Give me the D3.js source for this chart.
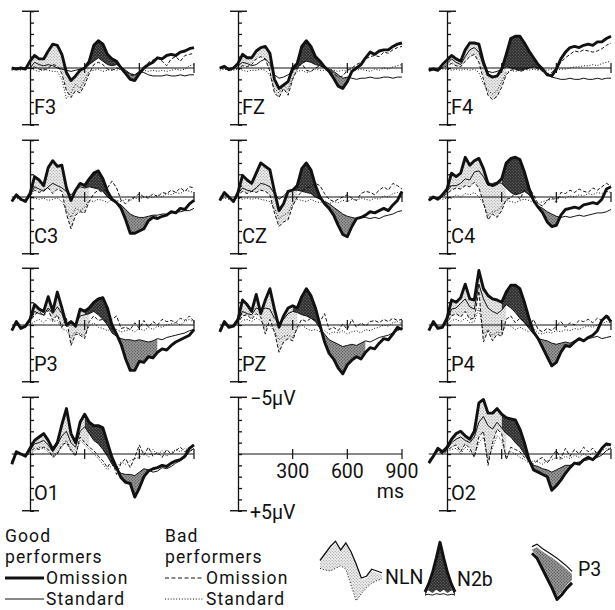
<!DOCTYPE html>
<html><head><meta charset="utf-8">
<script src="https://cdn.jsdelivr.net/npm/d3@7"></script>
<style>
body{margin:0;background:#fff}
svg{display:block}
text{font-family:Roboto,"Liberation Sans",sans-serif;fill:#111}
</style>
</head><body>
<svg id="c" width="615" height="610"></svg>
<script>
// ---- time grid (ms) ----
const times = [-100,-75,-50,-25,0,25,50,75,100,125,150,175,200,225,250,275,300,325,350,375,400,425,450,475,500,525,550,575,600,625,650,675,700,725,750,775,800,825,850,875,900];
const electrodes = ["F3","FZ","F4","C3","CZ","C4","P3","PZ","P4","O1","","O2"];
const scaleTicks = [300,600,900];
const axisTicksUV = [-5,-4,-3,-2,-1,0,1,2,3,4,5];

// ---- amplitudes in µV (negative plotted up) ----
const F3_goodOm  = [0,0.1,0,0.1,-0.6, -1.1,-0.8,-0.8,-1.5,-2.1,-2.0,-1.2,0.4,1.1,0.7, 0.2,0,-0.6,-2.0,-2.4,-2.1,-1.2,-0.8,-0.6,0, 0.5,1.0,1.1,0.5,0,-0.3,-0.5,-0.9,-0.8,-1.1, -1.2,-1.1,-1.4,-1.5,-1.7,-1.8];
const F3_goodStd = [0,0,0,0,0, -0.5,-0.3,-0.2,-0.3,-0.2,0,0.1,0.2,0.3,0.2, 0.1,0,-0.3,-0.6,-0.9,-0.6,-0.3,-0.2,-0.3,-0.1, 0.2,0.5,0.6,0.3,0.4,0.6,0.7,0.7,0.7,0.6, 0.7,0.7,0.6,0.7,0.6,0.6];
const F3_badOm   = [0.1,0,0.1,0,0, -0.1,0.1,0.2,0,-0.3,-0.2,0.5,2.0,2.6,2.0, 2.2,1.5,0.5,-0.3,-0.5,-0.3,0.1,0.2,0,0.1, 0.3,0.6,0.7,0.3,-0.1,-0.5,-0.7,-0.9,-0.6,-0.2, -0.8,-1.0,-0.6,-1.1,-1.2,-1.3];
const F3_badStd  = [0.2,0.1,0.2,0.1,0, 0.2,0.3,0.1,0.2,0.3,0.3,1.0,2.7,2.2,1.4, 1.8,1.0,0.3,0.2,0.1,0.3,0.2,0.1,0.2,0.1, 0.3,0.5,0.6,0.4,0.2,0.3,0.2,0.3,0.2,0.3, 0.2,0.1,0.2,0.1,-0.2,-0.3];

const FZ_goodOm  = [0,-0.15,0.15,0,-0.4, -1.2,-0.9,-0.9,-1.5,-1.8,-1.9,-1.3,1.0,1.8,1.5, 1.2,0,-0.4,-1.9,-2.4,-1.9,-1.0,-0.6,-0.1,0.3, 0.9,1.6,1.8,1.2,0.3,0,-0.3,-0.9,-1.4,-1.2, -1.5,-1.6,-1.6,-1.9,-2.1,-2.2];
const FZ_goodStd = [0,-0.1,0.1,0,-0.2, -0.5,-0.4,-0.2,-0.3,-0.6,-0.8,-0.4,0.6,0.9,0.8, 0.6,0.2,0,-0.4,-0.6,-0.5,-0.3,-0.2,0,0.1, 0.3,0.6,0.9,0.8,0.9,1.0,0.9,0.9,0.8,0.9, 0.9,0.8,0.8,0.9,0.8,0.8];
const FZ_badOm   = [0,0.1,0,0.1,0, -0.2,-0.1,-0.3,-0.8,-1.0,-0.8,0.3,2.2,2.6,1.8, 2.4,1.0,0.1,-0.4,0.2,0.3,0,-0.2,0,0.2, 0.5,0.8,0.7,0.2,0,-0.3,-0.5,-0.8,-1.0,-1.1, -1.0,-1.4,-1.3,-1.6,-1.8,-1.9];
const FZ_badStd  = [0.2,0.1,0.2,0.2,0.1, 0.2,0.3,0.2,0.2,0.1,0.2,0.6,1.8,2.2,1.5, 1.9,0.8,0.3,0.2,0.4,0.3,0.1,0.2,0.2,0.1, 0.2,0.3,0.2,0.3,0.1,0.2,0.1,0.2,0.3,0.1, 0.2,0,0.1,-0.1,-0.2,-0.3];

const F4_goodOm  = [0.2,0.1,0.2,-0.3,-0.7, -1.1,-0.8,-0.6,-1.6,-2.2,-2.2,-2.1,-0.5,0.6,0.8, 0.7,0.1,-1.2,-2.6,-2.8,-2.8,-2.2,-1.5,-0.9,-0.3, 0.1,0.6,0.7,0.1,-0.8,-1.4,-1.8,-1.9,-1.8,-2.0, -2.1,-2.0,-2.3,-2.3,-2.6,-2.8];
const F4_goodStd = [0.1,0,0.2,0,-0.4, -0.8,-0.5,-0.3,-1.0,-1.6,-1.8,-1.4,-0.2,0.3,0.4, 0.3,0.1,-0.1,0,0.1,0.2,0.1,0,-0.1,0, 0.2,0.5,0.8,0.9,1.0,1.0,0.9,1.0,1.0,0.9, 1.0,1.0,0.9,1.0,0.9,0.9];
const F4_badOm   = [0.1,0,0.1,0,-0.2, -0.4,-0.2,-0.1,-0.6,-1.0,-1.2,-0.5,1.0,2.4,2.8, 2.5,1.7,0.6,0.2,0.1,0.3,0.2,0,-0.1,0.1, 0.3,0.5,0.4,0,-0.5,-0.9,-1.2,-1.5,-1.4,-1.6, -1.5,-1.4,-1.5,-1.7,-2.0,-2.2];
const F4_badStd  = [0.2,0.1,0.2,0.1,0.1, 0.2,0.1,0.2,0.1,0.2,0.1,0.4,1.4,2.0,2.3, 2.0,1.2,0.4,0.2,0.3,0.2,0.1,0.2,0.1,0.2, 0.1,0.2,0.1,0.2,0.1,0.1,0,-0.1,-0.1,-0.2, -0.2,-0.3,-0.2,-0.4,-0.5,-0.6];

const C3_goodOm  = [0.4,-0.2,0.2,0.4,-0.3, -1.8,-1.5,-1.0,-2.6,-3.2,-2.7,-2.8,-0.8,0.3,-0.6, -1.2,-1.0,-1.6,-2.1,-2.3,-1.6,-0.5,0.2,0.5,1.0, 2.0,3.2,3.2,3.0,2.8,2.1,1.8,1.9,1.7,1.6, 1.3,1.4,1.0,1.1,0.6,0.3];
const C3_goodStd = [0.3,-0.1,0.2,0.3,-0.1, -0.9,-0.7,-0.5,-0.9,-1.2,-1.0,-0.8,-0.5,-0.2,-0.6, -0.9,-0.8,-0.9,-0.8,-0.7,-0.5,0,0.3,0.5,0.7, 1.1,1.5,1.7,1.8,1.8,1.7,1.6,1.6,1.5,1.5, 1.4,1.3,1.3,1.2,1.2,1.0];
const C3_badOm   = [0.3,0,0.2,0.3,-0.1, -0.6,-0.4,-0.6,-0.8,-0.3,-0.7,-0.5,1.5,2.8,1.6, 1.3,1.4,0.4,-0.3,-0.6,-0.4,-0.8,-1.4,-0.8,0.3, 0.6,0.2,0,-0.3,0,0.1,-0.3,0,-0.4,-0.3, -0.6,-0.4,-0.8,-0.5,-0.9,-0.8];
const C3_badStd  = [0.2,0.1,0.3,0.2,0.1, 0.1,0.2,0.1,0.3,0.2,0.1,0.4,1.2,1.8,1.0, 1.2,0.9,0.3,0.4,0.2,0.3,0.5,0.2,0.3,0.4, 0.2,0.3,0.1,0.2,0,-0.1,0.1,-0.2,0,-0.3, -0.2,-0.4,-0.3,-0.6,-0.5,-0.4];

const CZ_goodOm  = [0.3,-0.4,0,0.4,-0.4, -1.9,-1.5,-1.2,-2.1,-3.0,-2.7,-2.4,-0.5,1.2,0.6, -0.5,-0.6,-1.0,-2.5,-3.0,-2.4,-1.0,0,0.6,1.0, 1.6,2.5,3.3,3.5,2.6,1.9,1.8,1.6,1.3,1.4, 1.2,1.0,1.2,0.7,0.3,-0.5];
const CZ_goodStd = [0.3,-0.3,0,0.3,-0.3, -0.8,-0.6,-0.5,-0.8,-1.2,-1.1,-0.9,-0.3,0.2,-0.1, -0.5,-0.6,-0.6,-0.5,-0.4,-0.3,0,0.2,0.4,0.6, 0.9,1.2,1.5,1.7,1.8,1.9,1.8,1.8,1.9,1.8, 1.9,1.7,1.6,1.5,1.3,1.2];
const CZ_badOm   = [0.2,-0.2,0.1,0.3,-0.2, -0.5,-0.3,-0.5,-0.4,-0.6,-0.5,-0.2,1.4,2.6,2.2, 2.0,0.8,0,-0.5,-0.8,-0.9,-1.2,-1.0,-0.3,0.2, 0.4,0.2,0,-0.2,0.1,0.3,-0.3,-0.5,-0.4,-0.2, -0.6,-0.9,-0.6,-1.2,-1.0,-0.7];
const CZ_badStd  = [0.2,0.1,0.2,0.2,0.1, 0.2,0.1,0.2,0.1,0.2,0.3,0.4,1.0,1.9,1.6, 1.4,0.6,0.2,0.3,0.4,0.2,0.4,0.5,0.3,0.6, 0.4,0.5,0.3,0.4,0.2,0.3,0.1,0.2,0.3,0.1, 0.2,-0.1,0,-0.3,-0.4,-0.2];

const C4_goodOm  = [0.3,0,0.2,-0.2,-0.7, -2.1,-1.8,-2.1,-3.5,-2.8,-3.2,-3.4,-2.5,-1.2,-1.0, -1.2,-1.6,-3.0,-3.4,-3.5,-3.3,-2.2,-0.8,0.3,0.9, 1.4,2.2,2.6,2.5,1.6,1.1,1.0,0.9,1.0,0.7, 0.6,0.5,0.6,0.2,-0.7,-0.9];
const C4_goodStd = [0.3,0,0.2,-0.1,-0.5, -1.0,-1.0,-1.2,-1.6,-1.5,-2.2,-2.3,-1.8,-1.0,-1.2, -1.3,-1.2,-0.8,-0.4,-0.2,-0.3,-0.5,-0.2,0.3,0.8, 1.0,1.3,1.5,1.7,1.8,1.7,1.8,1.7,1.6,1.7, 1.6,1.5,1.4,1.4,1.3,1.1];
const C4_badOm   = [0.2,0.1,0.2,0,-0.3, -0.6,-0.8,-0.7,-1.0,-0.9,-1.3,-0.8,0.5,2.0,1.5, 1.8,1.2,0.2,0.1,-0.4,0.2,-0.6,-0.8,-0.2,0.6, 0.8,0.3,0,0.5,-0.4,-0.3,-0.6,-0.4,-0.7,-0.5, -0.4,-0.8,-0.6,-0.9,-1.2,-1.0];
const C4_badStd  = [0.2,0.1,0.1,0.2,0.1, 0.1,-0.2,0,-0.3,-0.2,-0.4,0,0.6,1.6,1.3, 1.2,0.8,0.3,0.4,0.5,0.3,0.2,0.3,0.5,0.6, 0.4,0.3,0.2,0.1,0,0.1,-0.1,0,-0.2,-0.1, -0.3,-0.2,-0.4,-0.3,-0.5,-0.4];

const P3_goodOm  = [0.5,-0.3,0.3,0.1,-0.5, -1.8,-1.4,-1.2,-2.5,-1.2,-2.9,-1.5,0,-0.3,0.1, -1.4,-1.2,-1.5,-2.0,-2.3,-2.4,-1.5,0,0.8,1.7, 3.0,4.0,4.0,3.2,3.3,2.8,2.9,2.4,2.1,2.2, 1.8,1.5,1.3,1.1,0.9,0.4];
const P3_goodStd = [0.4,-0.2,0.3,0.1,-0.4, -1.2,-1.0,-0.9,-1.5,-1.0,-1.6,-1.0,0.1,-0.2,0, -0.8,-0.9,-1.0,-1.2,-0.9,-0.5,0,0.7,1.0,1.2, 1.3,1.3,1.4,1.3,1.4,1.5,1.4,1.2,1.3,1.1, 1.0,0.9,0.8,0.7,0.5,0.4];
const P3_badOm   = [0.4,-0.1,0.2,0.1,-0.3, -0.9,-1.2,-0.8,-1.3,-0.4,-0.9,0.2,-0.6,1.8,0.8, 0.9,1.2,-0.3,-0.8,-0.4,-0.5,-0.3,-0.5,-0.8,0.3, 0.2,0.4,-0.2,0.3,-0.4,0.2,-0.3,0,-0.5,-0.3, -0.4,-0.2,-0.6,-0.4,-0.8,-0.3];
const P3_badStd  = [0.3,0,0.2,0.1,0, -0.3,-0.5,-0.2,-0.6,-0.3,-0.4,0.3,0.5,1.1,0.6, 0.8,0.9,0.1,-0.2,0.2,0.3,0.5,0.3,0.4,0.6, 0.5,0.4,0.6,0.3,0.5,0.2,0.4,0.1,0.2,0, -0.1,-0.2,0,-0.3,-0.5,-0.2];

const PZ_goodOm  = [0.6,-0.3,0.2,0.1,-0.5, -2.2,-1.8,-1.2,-2.7,-1.0,-2.2,-3.2,-1.4,0.2,-0.8, -1.5,-1.7,-1.5,-2.5,-3.2,-2.6,-1.5,0,1.5,2.5, 3.0,3.8,4.3,3.5,3.1,2.8,3.0,2.4,2.0,2.1, 1.6,1.2,1.3,0.8,0.2,0.4];
const PZ_goodStd = [0.5,-0.2,0.2,0.1,-0.3, -1.2,-1.0,-0.9,-1.5,-1.3,-1.5,-1.4,-0.6,-0.2,-0.5, -1.0,-1.2,-1.1,-0.9,-0.8,-0.6,-0.3,0.3,0.8,1.3, 1.5,1.7,1.9,1.8,1.7,1.8,1.6,1.4,1.5,1.3, 1.1,1.0,0.9,0.7,0.5,0.3];
const PZ_badOm   = [0.4,-0.2,0.1,0.1,-0.2, -0.8,-0.9,-0.5,-1.0,-0.7,0.8,-0.5,0.6,2.4,1.5, 1.2,1.4,0.2,-0.5,-0.3,-0.6,-0.4,-0.3,-1.0,0.4, 0.2,0.5,-0.1,0.4,-0.5,0.2,-0.2,0.1,-0.3,-0.4, -0.2,-0.5,-0.3,-0.6,-0.4,-0.5];
const PZ_badStd  = [0.3,0,0.2,0.1,0, -0.4,-0.5,-0.3,-0.6,-0.4,0.2,0,0.6,1.3,1.0, 0.9,1.1,0.3,0,0.3,0.5,0.4,0.6,0.5,0.8, 0.6,0.7,0.5,0.8,0.6,0.5,0.7,0.4,0.5,0.3, 0.2,0,0.1,-0.2,-0.3,-0.1];

const P4_goodOm  = [0.5,-0.3,0.3,0.2,-0.6, -2.2,-2.0,-2.4,-3.6,-2.3,-2.2,-4.8,-3.2,-2.6,-2.3, -2.2,-2.0,-2.9,-3.5,-3.5,-3.2,-2.0,-0.6,0.6,1.2, 2.0,2.8,3.6,3.3,2.4,1.8,1.9,1.5,1.2,1.4, 1.1,0.9,0.5,-0.4,-0.8,-0.3];
const P4_goodStd = [0.4,-0.2,0.2,0.2,-0.4, -1.4,-1.5,-1.9,-2.3,-1.6,-1.4,-3.6,-2.3,-1.5,-1.2, -1.0,-1.3,-1.8,-1.5,-1.1,-0.6,-0.2,0.3,0.8,1.2, 1.3,1.4,1.6,1.7,1.6,1.5,1.6,1.4,1.3,1.4, 1.2,1.1,1.0,1.2,1.1,1.0];
const P4_badOm   = [0.4,-0.1,0.3,0.2,-0.2, -0.8,-1.0,-0.7,-1.2,-0.5,-0.6,-3.0,1.5,0.5,1.4, 0.8,1.0,-0.5,-0.8,-0.2,-0.6,-0.3,0.2,-0.5,0.4, 0.6,0.3,0.5,0.1,-0.3,0.2,-0.2,0,-0.4,-0.3, -0.5,-0.2,-0.6,-0.4,-0.9,-0.6];
const P4_badStd  = [0.3,0,0.2,0.1,0, -0.4,-0.5,-0.3,-0.6,-0.2,-0.3,-1.5,0.8,0.4,0.9, 0.6,0.7,0,0.1,0.4,0.2,0.4,0.6,0.3,0.7, 0.8,0.6,0.7,0.5,0.6,0.4,0.5,0.3,0.4,0.2, 0.1,0.2,0,-0.1,-0.3,-0.2];

const O1_goodOm  = [0.9,-0.2,0,0.2,-0.5, -1.2,-1.5,-1.8,-1.2,-0.4,-1.0,-2.6,-4.0,-1.8,-1.0, -2.8,-3.5,-2.8,-2.5,-2.5,-2.3,-1.0,0.3,1.2,2.1, 2.5,2.6,3.8,3.0,2.0,1.5,1.3,1.2,1.0,1.1, 0.8,0.6,0.5,0.2,-0.5,-0.8];
const O1_goodStd = [0.8,-0.2,0,0.2,-0.3, -0.9,-1.0,-1.2,-0.8,-0.2,-0.8,-1.6,-2.0,-1.0,-0.6, -2.0,-2.4,-1.8,-1.2,-0.9,-0.4,0.2,0.9,1.4,1.7, 1.8,1.8,1.9,1.6,1.3,1.4,1.6,1.5,1.2,1.3, 1.1,0.8,0.6,0.3,-0.2,-0.5];
const O1_badOm   = [0.7,-0.1,0,0.1,-0.2, -0.5,-0.4,-0.6,-0.4,0.3,0,-0.8,-1.0,-0.3,0.2, -1.5,-1.0,-0.6,-0.3,0.2,0.6,1.2,0.5,1.8,0.8, 0.4,1.2,0.3,-0.8,0.1,-0.6,0.2,-0.2,0.3,-0.4, 0,-0.3,-0.6,-0.2,-0.5,-0.7];
const O1_badStd  = [0.6,0,0.1,0.1,0, -0.3,-0.6,-0.5,-0.2,0.2,-0.1,-0.6,-1.2,-0.4,0.1, -1.2,-0.8,-0.4,0,0.4,0.9,1.4,1.0,1.2,0.7, 0.9,0.6,0.4,0.3,-0.2,0.3,-0.4,0.1,-0.3,0.2, -0.1,-0.4,-0.2,-0.5,-0.3,-0.4];

const O2_goodOm  = [0.8,0.2,-0.5,-0.2,-0.6, -1.3,-1.8,-2.0,-1.6,-1.3,-2.0,-4.5,-4.8,-3.6,-3.6, -4.0,-3.5,-3.2,-3.1,-3.0,-2.2,-1.0,0.5,1.4,1.6, 1.8,2.0,3.2,2.8,2.3,1.7,1.2,0.8,0.9,0.5, 0.3,0.5,0.1,-0.5,-0.9,-0.8];
const O2_goodStd = [0.7,0.2,-0.4,-0.1,-0.4, -1.0,-1.3,-1.5,-1.2,-1.0,-1.5,-2.8,-3.3,-2.5,-2.2, -2.8,-2.3,-1.8,-1.5,-1.0,-0.6,0,0.7,1.0,1.1, 1.3,1.4,1.6,1.4,1.2,1.0,1.0,0.8,0.7,0.6, 0.5,0.4,0.3,0.1,-0.3,-0.5];
const O2_badOm   = [0.6,0.2,-0.3,0,-0.3, -0.6,-0.8,-0.2,-0.9,-0.5,0.3,-1.5,-2.0,1.0,-1.0, -2.2,-1.8,0.5,-0.6,-0.4,-0.2,0.3,0.6,0.9,0.5, 0.3,0.8,0.2,-0.3,0.4,-0.5,0.2,-0.4,0,-0.6, -0.2,-0.5,0,-0.6,-0.8,-0.5];
const O2_badStd  = [0.5,0.1,-0.2,0,-0.2, -0.4,-0.5,0,-0.6,-0.2,0.1,-1.0,-1.5,0.5,-0.6, -1.6,-1.2,0.3,-0.2,0,0.3,0.5,0.8,0.6,0.7, 0.9,0.6,0.5,0.3,0.5,0.2,0.4,0.1,0.3,0, 0.2,-0.1,-0.2,-0.3,-0.5,-0.4];

// component windows (ms)
const nlnWindow = [0, 325];
const n2bWindow = [300, 525];
const p3Window  = [450, 700];

// legend glyph samples (arbitrary units)
const iconNLN_top = [-1.2,-2.0,-2.8,-3.4,-2.4,-3.2,-2.2,-0.8,0.8,0.6,-0.2,0.0,0.2];
const iconNLN_bot = [-0.3,-0.1,0.0,-0.3,-0.6,-0.2,1.6,3.4,2.6,1.9,1.4,1.1,0.9];
const iconN2b_top = [3.0,2.0,0.6,-1.2,-3.2,-1.2,0.6,2.0,3.0];
const iconN2b_bot = [3.4,3.2,3.5,3.1,3.4,3.1,3.5,3.2,3.4];
const iconP3_top  = [-3.2,-3.5,-3.0,-2.6,-2.2,-1.8,-1.3,-0.8,-0.2];
const iconP3_bot  = [-2.4,-1.8,-0.6,0.6,1.8,3.2,2.6,1.8,1.2];

// ---------------------------------------------------------------
const seriesOf = {
  F3:[F3_goodOm,F3_goodStd,F3_badOm,F3_badStd], FZ:[FZ_goodOm,FZ_goodStd,FZ_badOm,FZ_badStd], F4:[F4_goodOm,F4_goodStd,F4_badOm,F4_badStd],
  C3:[C3_goodOm,C3_goodStd,C3_badOm,C3_badStd], CZ:[CZ_goodOm,CZ_goodStd,CZ_badOm,CZ_badStd], C4:[C4_goodOm,C4_goodStd,C4_badOm,C4_badStd],
  P3:[P3_goodOm,P3_goodStd,P3_badOm,P3_badStd], PZ:[PZ_goodOm,PZ_goodStd,PZ_badOm,PZ_badStd], P4:[P4_goodOm,P4_goodStd,P4_badOm,P4_badStd],
  O1:[O1_goodOm,O1_goodStd,O1_badOm,O1_badStd], O2:[O2_goodOm,O2_goodStd,O2_badOm,O2_badStd]
};

const svg = d3.select("#c");
svg.append("rect").attr("width",615).attr("height",610).attr("fill","#fff");
const defs = svg.append("defs");
function makePattern(id, bg, dot, step, r){
  const p = defs.append("pattern").attr("id",id).attr("patternUnits","userSpaceOnUse")
    .attr("width",step).attr("height",step);
  p.append("rect").attr("width",step).attr("height",step).attr("fill",bg);
  p.append("circle").attr("cx",step/4).attr("cy",step/4).attr("r",r).attr("fill",dot);
  p.append("circle").attr("cx",step*3/4).attr("cy",step*3/4).attr("r",r).attr("fill",dot);
}
makePattern("pLight","#eeeeee","#909090",3,0.6);
makePattern("pDark","#2e2e2e","#7a7a7a",3,0.6);
makePattern("pMid","#9c9c9c","#505050",3,0.65);

const colX = [30, 238, 447];
const rowY = [68, 197, 325, 454];
const pxPerMs = 164/900;
const pxPerUV = 11.35;
let clipN = 0;

function panelScales(ax, base){
  const x = d3.scaleLinear().domain([0,900]).range([ax, ax + 900*pxPerMs]);
  const y = d3.scaleLinear().domain([-5,5]).range([base - 5*pxPerUV, base + 5*pxPerUV]);
  return {x,y};
}

function drawAxis(g, x, y, withBaselineLeft){
  const ax = x(0);
  g.append("g").attr("transform",`translate(${ax},0)`)
    .call(d3.axisRight(y).tickValues(axisTicksUV).tickSize(4).tickSizeOuter(0).tickFormat(""))
    .call(s=>{s.selectAll("path,line").attr("stroke","#111").attr("stroke-width",1.3);});
  [-5,5].forEach(v=>{
    g.append("line").attr("x1",ax-8).attr("x2",ax+9).attr("y1",y(v)).attr("y2",y(v))
      .attr("stroke","#111").attr("stroke-width",1.4);
  });
  const x0 = withBaselineLeft ? x(-100) : x(0);
  g.append("line").attr("x1",x0).attr("x2",x(900)).attr("y1",y(0)).attr("y2",y(0))
    .attr("stroke","#111").attr("stroke-width",1.2);
  g.selectAll(null).data(scaleTicks).enter().append("line")
    .attr("x1",d=>x(d)).attr("x2",d=>x(d)).attr("y1",y(0)-5).attr("y2",y(0)+5)
    .attr("stroke","#111").attr("stroke-width",1.2);
}

function drawPanel(name, col, row){
  const [gOm,gSt,bOm,bSt] = seriesOf[name];
  const base = rowY[row], ax = colX[col];
  const {x,y} = panelScales(ax, base);
  const g = svg.append("g");
  const data = times.map((t,i)=>({t, gOm:gOm[i], gSt:gSt[i], bOm:bOm[i], bSt:bSt[i]}));
  const top = y(-5)-10, bot = y(5)+10;
  const inW = w => d => d.t>=w[0] && d.t<=w[1];

  // NLN: between good omission and bad omission
  g.append("path").datum(data)
    .attr("d", d3.area().defined(inW(nlnWindow)).x(d=>x(d.t)).y0(d=>y(d.gOm)).y1(d=>y(d.bOm)))
    .attr("fill","url(#pLight)");

  // N2b: good omission more negative than good standard
  const idA = "clip"+(clipN++);
  defs.append("clipPath").attr("id",idA).append("path").datum(data)
    .attr("d", d3.area().defined(inW(n2bWindow)).x(d=>x(d.t)).y0(d=>y(d.gOm)).y1(bot));
  g.append("path").datum(data).attr("clip-path",`url(#${idA})`)
    .attr("d", d3.area().defined(inW(n2bWindow)).x(d=>x(d.t)).y0(top).y1(d=>y(d.gSt)))
    .attr("fill","url(#pDark)");

  // P3: good omission more positive than good standard
  const idB = "clip"+(clipN++);
  defs.append("clipPath").attr("id",idB).append("path").datum(data)
    .attr("d", d3.area().defined(inW(p3Window)).x(d=>x(d.t)).y0(d=>y(d.gSt)).y1(bot));
  g.append("path").datum(data).attr("clip-path",`url(#${idB})`)
    .attr("d", d3.area().defined(inW(p3Window)).x(d=>x(d.t)).y0(top).y1(d=>y(d.gOm)))
    .attr("fill","url(#pMid)");

  drawAxis(g, x, y, true);

  const line = key => d3.line().x(d=>x(d.t)).y(d=>y(d[key]));
  g.append("path").datum(data).attr("d",line("bSt")).attr("fill","none")
    .attr("stroke","#111").attr("stroke-width",1).attr("stroke-dasharray","1,1.8");
  g.append("path").datum(data).attr("d",line("bOm")).attr("fill","none")
    .attr("stroke","#111").attr("stroke-width",1).attr("stroke-dasharray","3.5,2");
  g.append("path").datum(data).attr("d",line("gSt")).attr("fill","none")
    .attr("stroke","#111").attr("stroke-width",1);
  g.append("path").datum(data).attr("d",line("gOm")).attr("fill","none")
    .attr("stroke","#111").attr("stroke-width",2.9).attr("stroke-linejoin","round");

  g.append("text").attr("x",ax+4).attr("y",base+46).attr("font-size",20).text(name);
}

electrodes.forEach((name,i)=>{
  const col = i%3, row = Math.floor(i/3);
  if(name) drawPanel(name, col, row);
});

// ---- scale panel ----
{
  const {x,y} = panelScales(colX[1], rowY[3]);
  const g = svg.append("g");
  drawAxis(g, x, y, false);
  g.selectAll(null).data(scaleTicks).enter().append("text")
    .attr("x",d=>x(d)).attr("y",y(0)+24).attr("text-anchor","middle").attr("font-size",19.5)
    .text(d=>d);
  g.append("text").attr("x",x(900)+2).attr("y",y(0)+44).attr("text-anchor","end").attr("font-size",19.5).text("ms");
  g.append("text").attr("x",x(0)+12).attr("y",y(-5)+8).attr("font-size",19.5).text("\u22125\u03bcV");
  g.append("text").attr("x",x(0)+12).attr("y",y(5)+8).attr("font-size",19.5).text("+5\u03bcV");
}

// ---- legend ----
{
  const g = svg.append("g").attr("font-size",17.5).attr("letter-spacing",1.1);
  const rowsY = [542, 563, 584, 605];
  g.append("text").attr("x",5).attr("y",rowsY[0]).text("Good");
  g.append("text").attr("x",5).attr("y",rowsY[1]).text("performers");
  g.append("text").attr("x",46).attr("y",rowsY[2]).text("Omission");
  g.append("text").attr("x",46).attr("y",rowsY[3]).text("Standard");
  g.append("line").attr("x1",5).attr("x2",44).attr("y1",rowsY[2]-6).attr("y2",rowsY[2]-6).attr("stroke","#111").attr("stroke-width",2.8);
  g.append("line").attr("x1",5).attr("x2",44).attr("y1",rowsY[3]-6).attr("y2",rowsY[3]-6).attr("stroke","#111").attr("stroke-width",1);

  g.append("text").attr("x",165).attr("y",rowsY[0]).text("Bad");
  g.append("text").attr("x",165).attr("y",rowsY[1]).text("performers");
  g.append("text").attr("x",206).attr("y",rowsY[2]).text("Omission");
  g.append("text").attr("x",206).attr("y",rowsY[3]).text("Standard");
  g.append("line").attr("x1",165).attr("x2",204).attr("y1",rowsY[2]-6).attr("y2",rowsY[2]-6).attr("stroke","#111").attr("stroke-width",1).attr("stroke-dasharray","4,2.5");
  g.append("line").attr("x1",165).attr("x2",204).attr("y1",rowsY[3]-6).attr("y2",rowsY[3]-6).attr("stroke","#111").attr("stroke-width",1).attr("stroke-dasharray","1,1.8");

  // NLN glyph
  {
    const xs = d3.scaleLinear().domain([0, iconNLN_top.length-1]).range([320, 382]);
    const ys = d3.scaleLinear().domain([-4,4]).range([536, 606]);
    const d = iconNLN_top.map((v,i)=>({i, a:v, b:iconNLN_bot[i]}));
    g.append("path").datum(d).attr("d",d3.area().x(p=>xs(p.i)).y0(p=>ys(p.a)+2).y1(p=>ys(p.b))).attr("fill","url(#pLight)");
    g.append("path").datum(d).attr("d",d3.line().x(p=>xs(p.i)).y(p=>ys(p.a))).attr("fill","none").attr("stroke","#111").attr("stroke-width",1.3);
    g.append("path").datum(d).attr("d",d3.line().x(p=>xs(p.i)).y(p=>ys(p.b))).attr("fill","none").attr("stroke","#111").attr("stroke-width",1).attr("stroke-dasharray","1,2");
    g.append("text").attr("x",385).attr("y",584).attr("font-size",19.5).attr("letter-spacing",0).text("NLN");
  }
  // N2b glyph
  {
    const xs = d3.scaleLinear().domain([0, iconN2b_top.length-1]).range([425, 455]);
    const ys = d3.scaleLinear().domain([-4,4]).range([536, 600]);
    const d = iconN2b_top.map((v,i)=>({i, a:v, b:iconN2b_bot[i]}));
    g.append("path").datum(d).attr("d",d3.area().x(p=>xs(p.i)).y0(p=>ys(p.a)+4).y1(p=>ys(p.b)-3)).attr("fill","url(#pDark)");
    g.append("path").datum(d).attr("d",d3.line().x(p=>xs(p.i)).y(p=>ys(p.a))).attr("fill","none").attr("stroke","#111").attr("stroke-width",3).attr("stroke-linejoin","round");
    g.append("path").datum(d).attr("d",d3.line().curve(d3.curveBasis).x(p=>xs(p.i)).y(p=>ys(p.b))).attr("fill","none").attr("stroke","#111").attr("stroke-width",1);
    g.append("text").attr("x",457).attr("y",586).attr("font-size",19.5).attr("letter-spacing",0).text("N2b");
  }
  // P3 glyph
  {
    const xs = d3.scaleLinear().domain([0, iconP3_top.length-1]).range([532, 572]);
    const ys = d3.scaleLinear().domain([-4,4]).range([540, 606]);
    const d = iconP3_top.map((v,i)=>({i, a:v, b:iconP3_bot[i]}));
    g.append("path").datum(d).attr("d",d3.area().x(p=>xs(p.i)).y0(p=>ys(p.a)+3).y1(p=>ys(p.b)-3)).attr("fill","url(#pMid)");
    g.append("path").datum(d).attr("d",d3.line().x(p=>xs(p.i)).y(p=>ys(p.a))).attr("fill","none").attr("stroke","#111").attr("stroke-width",1.2);
    g.append("path").datum(d).attr("d",d3.line().x(p=>xs(p.i)).y(p=>ys(p.b))).attr("fill","none").attr("stroke","#111").attr("stroke-width",3).attr("stroke-linejoin","round");
    g.append("text").attr("x",578).attr("y",576).attr("font-size",19.5).attr("letter-spacing",0).text("P3");
  }
}
</script>
</body></html>
